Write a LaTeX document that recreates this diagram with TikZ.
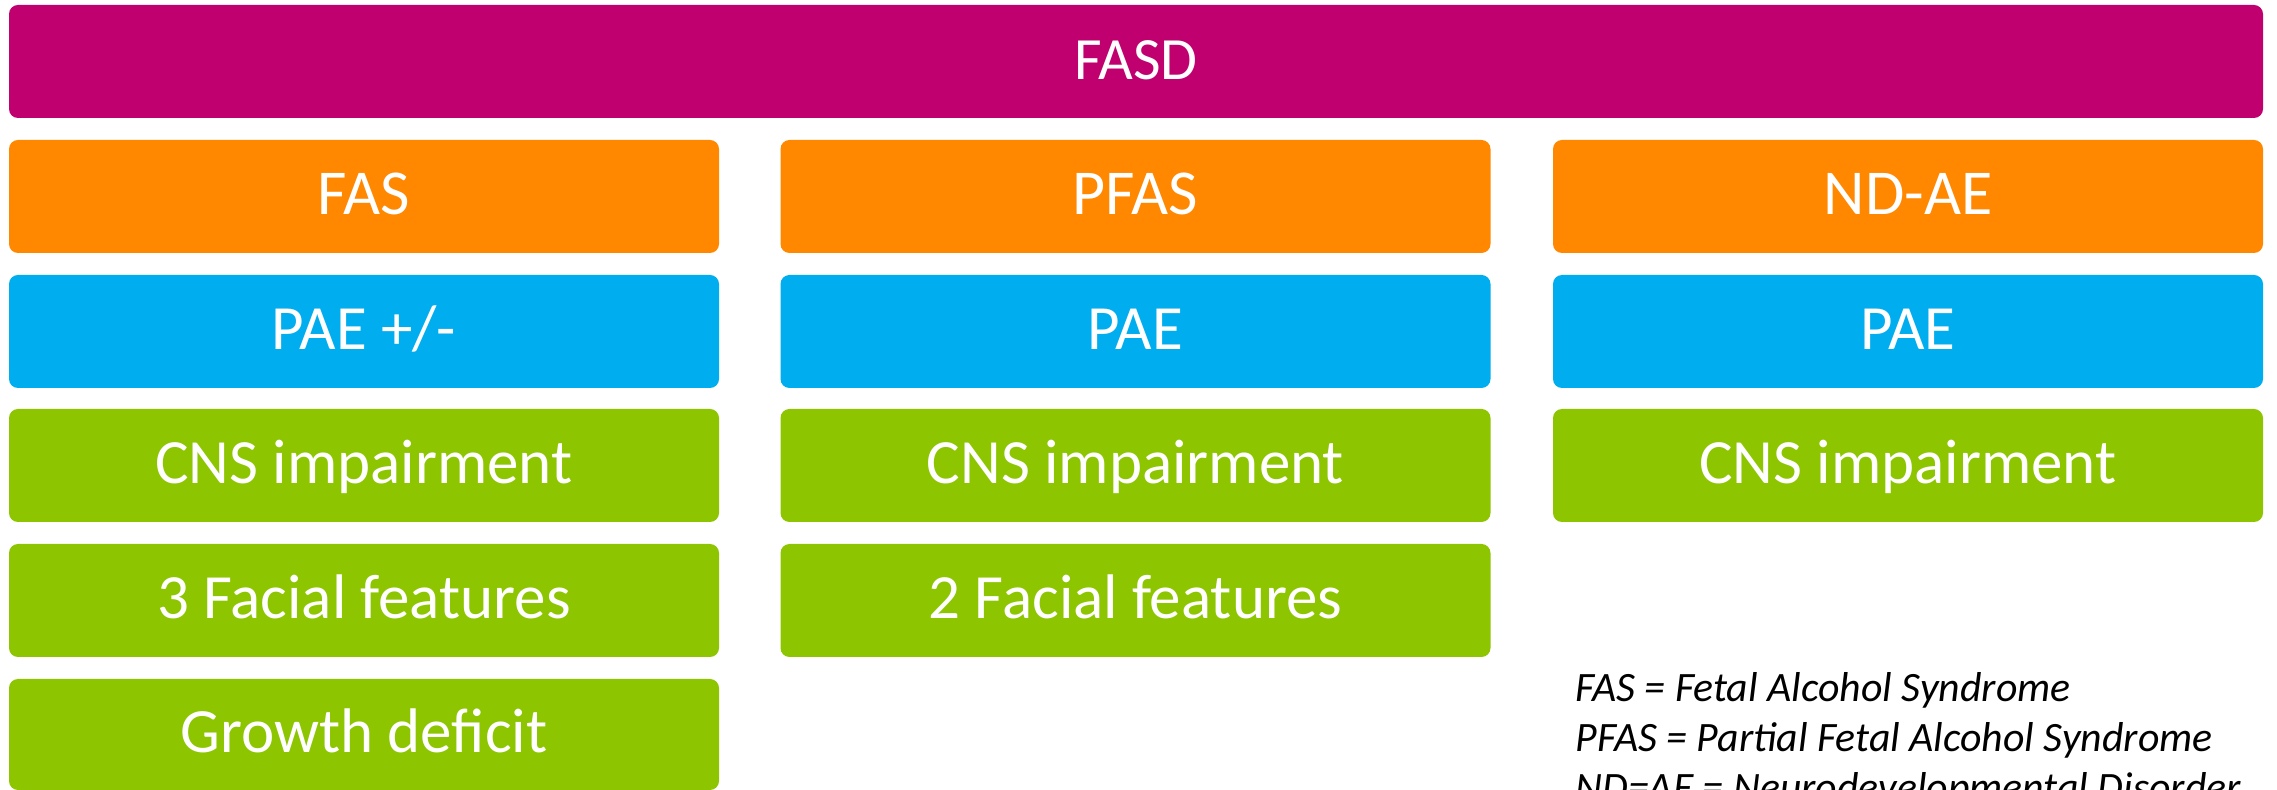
\documentclass[tikz,border=0pt]{standalone}
\usepackage{fontspec}
\setmainfont{Carlito}
\definecolor{fasdmag}{RGB}{192,0,111}
\definecolor{hdrorange}{RGB}{255,136,0}
\definecolor{paeblue}{RGB}{0,174,239}
\definecolor{critgreen}{RGB}{141,198,0}
\tikzset{
  box/.style={rectangle, rounded corners=4.5pt, draw=none, text=white, inner sep=0pt,
    minimum width=355pt, minimum height=56.5pt, text height=18.5pt, text depth=0pt,
    font=\fontsize{31.5pt}{36pt}\selectfont},
  topbox/.style={box, fill=fasdmag, minimum width=1127pt, font=\fontsize{30pt}{36pt}\selectfont},
  hdr/.style={box, fill=hdrorange, font=\fontsize{32pt}{36pt}\selectfont},
  pae/.style={box, fill=paeblue},
  crit/.style={box, fill=critgreen},
  legend/.style={anchor=base west, inner sep=0pt, font=\fontsize{20.9pt}{24pt}\selectfont\itshape}
}
\begin{document}
\begin{tikzpicture}[x=0.5pt,y=-0.5pt]
\useasboundingbox (0,0) rectangle (2277,790);
\node[topbox] (fasd) at (1136,61.5) {FASD};
% column 1
\node[hdr]  (fas)   at (364,196.5) {FAS};
\node[pae]  (pae1)  at (364,331.5) {PAE +/-};
\node[crit] (cns1)  at (364,465.5) {CNS impairment};
\node[crit] (face1) at (364,600.5) {3 Facial features};
\node[crit, minimum height=55.5pt] (grow1) at (364,734.5) {Growth deficit};
% column 2
\node[hdr]  (pfas)  at (1135.5,196.5) {PFAS};
\node[pae]  (pae2)  at (1135.5,331.5) {PAE};
\node[crit] (cns2)  at (1135.5,465.5) {CNS impairment};
\node[crit] (face2) at (1135.5,600.5) {2 Facial features};
% column 3
\node[hdr]  (ndae)  at (1908,196.5) {ND-AE};
\node[pae]  (pae3)  at (1908,331.5) {PAE};
\node[crit] (cns3)  at (1908,465.5) {CNS impairment};
% legend
\node[legend] (leg1) at (1575,702) {FAS = Fetal Alcohol Syndrome};
\node[legend] (leg2) at (1575,752) {PFAS = Partial Fetal Alcohol Syndrome};
\node[legend] (leg3) at (1575,802) {ND=AE = Neurodevelopmental Disorder};
\end{tikzpicture}
\end{document}
